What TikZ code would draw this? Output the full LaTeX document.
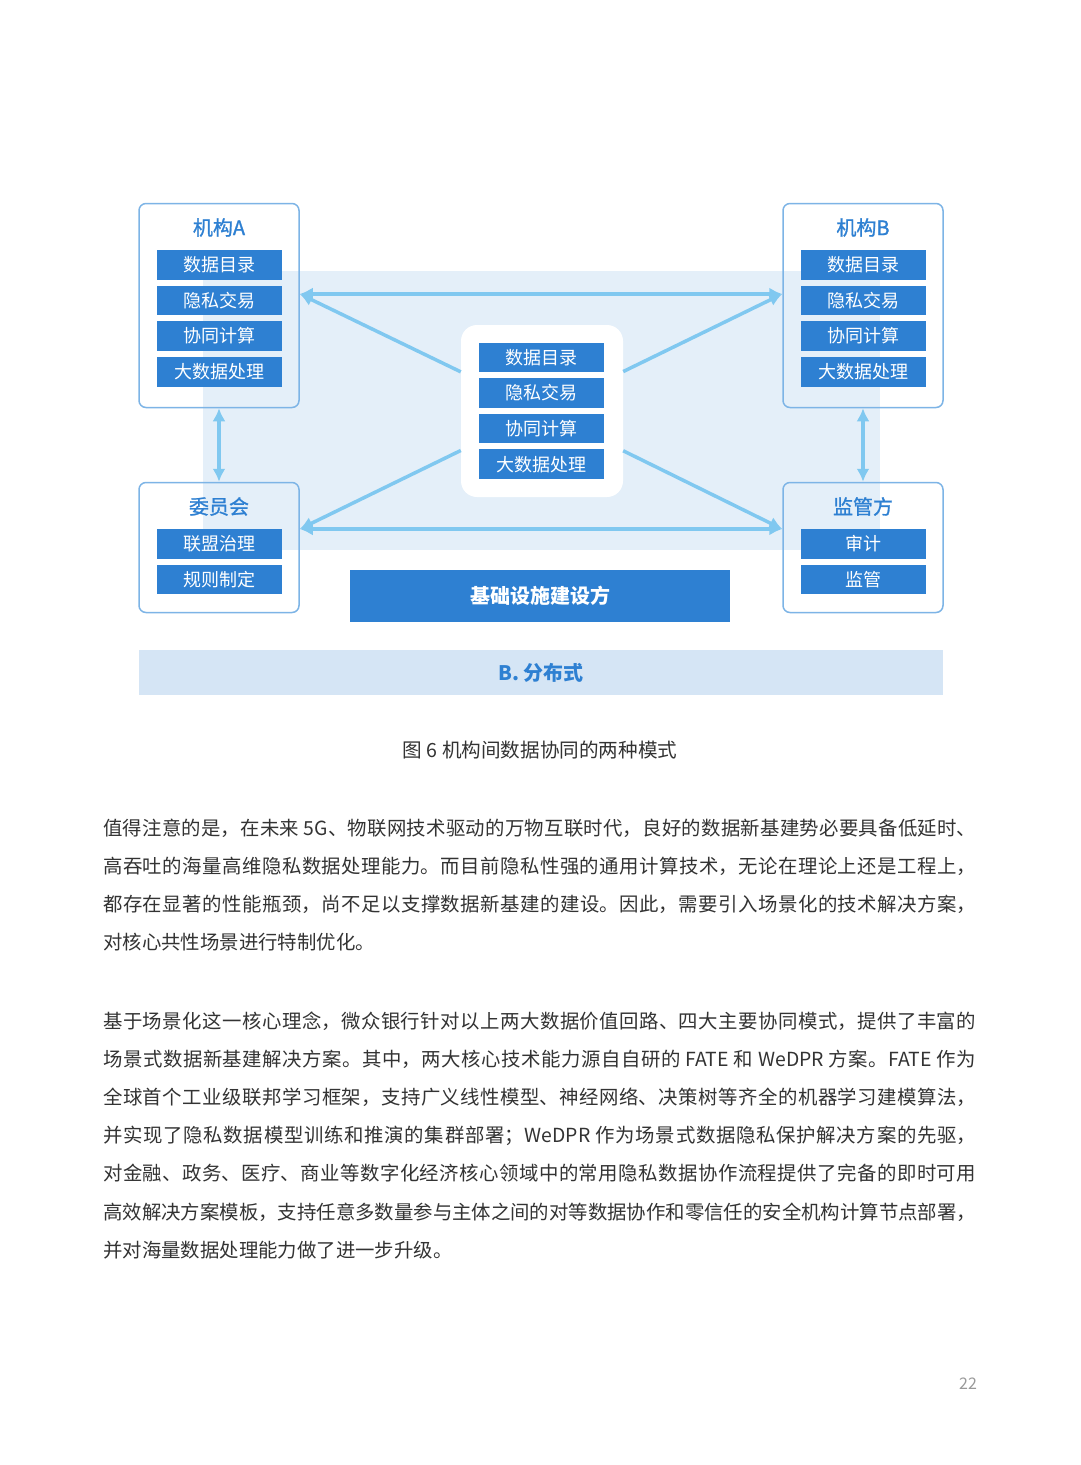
\documentclass[tikz,border=0pt]{standalone}
\usepackage{fontspec}
\setmainfont{Noto Sans CJK SC}
\newfontfamily\titlefont{Noto Sans CJK SC}[FakeBold=1.2]
\usepackage{xcolor}
\usepackage{tikz}
\usetikzlibrary{arrows.meta}
\XeTeXlinebreaklocale "zh"
\XeTeXlinebreakskip=0pt plus 2pt

\definecolor{barblue}{HTML}{2E80D2}
\definecolor{edgeblue}{HTML}{7DB4E6}
\definecolor{arrowblue}{HTML}{80C8F0}
\definecolor{bgblue}{HTML}{E4EFF9}
\definecolor{bandblue}{HTML}{D5E5F5}
\definecolor{bodygray}{HTML}{333333}
\definecolor{pagegray}{HTML}{999999}

\begin{document}
\begin{tikzpicture}[x=1pt, y=-1pt,
    orgbox/.style={draw=edgeblue, line width=1.5pt, rounded corners=7pt, minimum width=160pt, inner sep=0pt},
    orgtitle/.style={text=barblue, font=\titlefont\fontsize{20}{24}\selectfont},
    bar/.style={fill=barblue, text=white, minimum width=125pt, minimum height=29.5pt, inner sep=0pt, font=\fontsize{18}{22}\selectfont},
    arr/.style={draw=arrowblue, line width=3.5pt, -{Latex[length=13pt,width=13pt]}},
    arrboth/.style={arr, {Latex[length=13pt,width=13pt]}-{Latex[length=13pt,width=13pt]}},
    body/.style={anchor=base west, text width=873pt, align=justify, inner sep=0pt, text=bodygray, font=\fontsize{19.4}{38.2}\selectfont}]

  \useasboundingbox (0,0) rectangle (1080,1465);
  \fill[white] (0,0) rectangle (1080,1465);

  % shaded area behind the network
  \fill[bgblue] (203,271) rectangle (880,550);

  \node[orgbox, minimum height=204pt] (orgA) at (219,305.5) {};
  \node[orgbox, minimum height=204pt] (orgB) at (863,305.5) {};
  \node[orgbox, minimum height=130pt] (committee) at (219,547.5) {};
  \node[orgbox, minimum height=130pt] (regulator) at (863,547.5) {};
  \node[fill=white, rounded corners=16pt, minimum width=162pt, minimum height=172pt] (hub) at (542,411) {};

  \node[orgtitle] (orgAname) at (219,227.5) {机构A};
  \node[orgtitle] (orgBname) at (863,227.5) {机构B};
  \node[orgtitle] (committeename) at (219,506.5) {委员会};
  \node[orgtitle] (regulatorname) at (863,506.5) {监管方};

  \node[bar] (a1) at (219,265) {数据目录};
  \node[bar] (a2) at (219,300.5) {隐私交易};
  \node[bar] (a3) at (219,336) {协同计算};
  \node[bar] (a4) at (219,372) {大数据处理};

  \node[bar] (b1) at (863,265) {数据目录};
  \node[bar] (b2) at (863,300.5) {隐私交易};
  \node[bar] (b3) at (863,336) {协同计算};
  \node[bar] (b4) at (863,372) {大数据处理};

  \node[bar] (h1) at (541.5,357.5) {数据目录};
  \node[bar] (h2) at (541.5,393) {隐私交易};
  \node[bar] (h3) at (541.5,428.7) {协同计算};
  \node[bar] (h4) at (541.5,464.2) {大数据处理};

  \node[bar] (c1) at (219,544) {联盟治理};
  \node[bar] (c2) at (219,579.5) {规则制定};
  \node[bar] (r1) at (863,544) {审计};
  \node[bar] (r2) at (863,579.5) {监管};

  % connectors
  \draw[arrboth] ([yshift=11.5pt]orgA.east) -- ([yshift=11.5pt]orgB.west);
  \draw[arrboth] ([yshift=18.5pt]committee.east) -- ([yshift=18.5pt]regulator.west);
  \draw[arrboth] (orgA) -- (committee);
  \draw[arrboth] (orgB) -- (regulator);
  \draw[arr] (hub) -- ([yshift=11.5pt]orgA.east);
  \draw[arr] (hub) -- ([yshift=11.5pt]orgB.west);
  \draw[arr] (hub) -- ([yshift=18.5pt]committee.east);
  \draw[arr] (hub) -- ([yshift=18.5pt]regulator.west);

  \node[fill=barblue, text=white, minimum width=380pt, minimum height=52pt, font=\bfseries\fontsize{20}{24}\selectfont] (infra) at (540,596) {基础设施建设方};
  \node[fill=bandblue, text=barblue, minimum width=804pt, minimum height=45pt, font=\bfseries\fontsize{20}{24}\selectfont] (band) at (541,672.5) {B. 分布式};

  \node[text=bodygray, font=\fontsize{19.6}{24}\selectfont] (caption) at (540,750) {图 6 机构间数据协同的两种模式};

  \node[body] (para1) at (103,835) {值得注意的是，在未来 5G、物联网技术驱动的万物互联时代，良好的数据新基建势必要具备低延时、\linebreak
高吞吐的海量高维隐私数据处理能力。而目前隐私性强的通用计算技术，无论在理论上还是工程上，\linebreak
都存在显著的性能瓶颈，尚不足以支撑数据新基建的建设。因此，需要引入场景化的技术解决方案，\linebreak
对核心共性场景进行特制优化。};

  \node[body] (para2) at (103,1028) {基于场景化这一核心理念，微众银行针对以上两大数据价值回路、四大主要协同模式，提供了丰富的\linebreak
场景式数据新基建解决方案。其中，两大核心技术能力源自自研的 FATE 和 WeDPR 方案。FATE 作为\linebreak
全球首个工业级联邦学习框架，支持广义线性模型、神经网络、决策树等齐全的机器学习建模算法，\linebreak
并实现了隐私数据模型训练和推演的集群部署；WeDPR 作为场景式数据隐私保护解决方案的先驱，\linebreak
对金融、政务、医疗、商业等数字化经济核心领域中的常用隐私数据协作流程提供了完备的即时可用\linebreak
高效解决方案模板，支持任意多数量参与主体之间的对等数据协作和零信任的安全机构计算节点部署，\linebreak
并对海量数据处理能力做了进一步升级。};

  \node[text=pagegray, font=\fontsize{16}{20}\selectfont] (pagenum) at (968,1384) {22};
\end{tikzpicture}
\end{document}
